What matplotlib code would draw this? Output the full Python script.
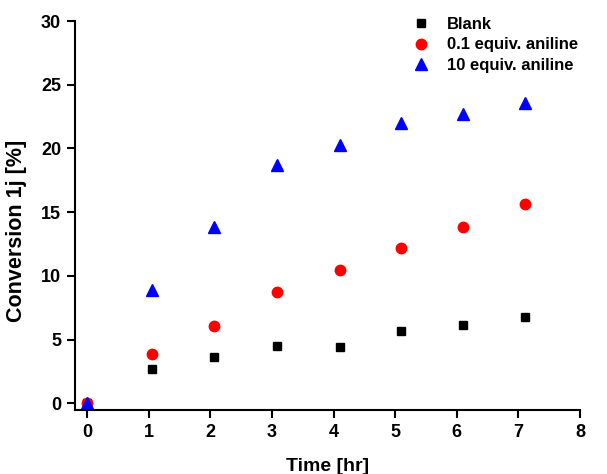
import matplotlib
matplotlib.use("Agg")
import matplotlib.pyplot as plt

plt.rcParams['font.family'] = ['Liberation Sans', 'DejaVu Sans']
plt.rcParams['font.weight'] = 'bold'

time_hr = [0, 1.05, 2.05, 3.08, 4.1, 5.1, 6.1, 7.1]
blank = [0, 2.67, 3.61, 4.5, 4.45, 5.67, 6.12, 6.75]
aniline_01 = [0, 3.84, 6.04, 8.74, 10.44, 12.17, 13.82, 15.67]
aniline_10 = [0, 8.85, 13.85, 18.7, 20.3, 22.0, 22.7, 23.6]

series_labels = ['Blank', '0.1 equiv. aniline', '10 equiv. aniline']
x_ticks = [0, 1, 2, 3, 4, 5, 6, 7, 8]
y_ticks = [0, 5, 10, 15, 20, 25, 30]

fig = plt.figure(figsize=(6.07, 4.74), dpi=100)
ax = fig.add_axes([75/607, 1-410/474, 505/607, 389/474])

ax.plot(time_hr, blank, 's', color='black', markersize=6.3, linestyle='none', label=series_labels[0])
ax.plot(time_hr, aniline_01, 'o', color='#ff0000', markersize=7.5, linestyle='none', label=series_labels[1])
ax.plot(time_hr, aniline_10, '^', color='#0000ff', markersize=8.5, linestyle='none', label=series_labels[2])

ax.set_xlim(-0.2, 8)
ax.set_ylim(-0.53, 30)
ax.set_xticks(x_ticks)
ax.set_yticks(y_ticks)
for s in ['top', 'right']:
    ax.spines[s].set_visible(False)
for s in ['left', 'bottom']:
    ax.spines[s].set_linewidth(1.5)
ax.tick_params(axis='both', direction='out', length=6, width=1.5, labelsize=13, pad=4)
for lbl in ax.get_xticklabels() + ax.get_yticklabels():
    lbl.set_fontweight('bold')

ax.set_xlabel('Time [hr]', fontsize=14, fontweight='bold', labelpad=12)
ax.set_ylabel('Conversion 1j [%]', fontsize=15.5, fontweight='bold')
ax.yaxis.set_label_coords(-0.096, 0.46)

leg = ax.legend(loc='upper left', bbox_to_anchor=(0.635, 1.05), frameon=False,
                fontsize=12, handletextpad=0.95, labelspacing=0.35, handlelength=1.2)
for t in leg.get_texts():
    t.set_fontweight('bold')

fig.savefig('out.png', dpi=100)
